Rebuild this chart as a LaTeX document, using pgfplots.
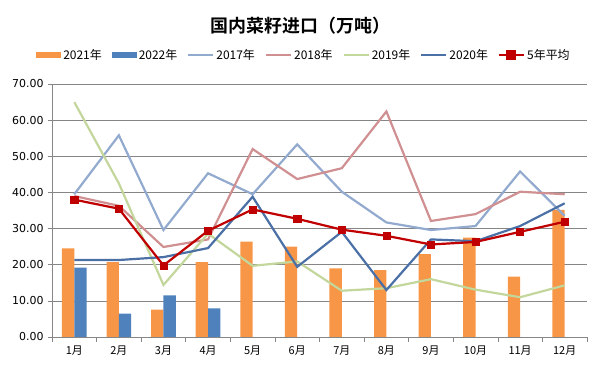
\documentclass[border=0pt]{standalone}
\usepackage{pgfplots}
\pgfplotsset{compat=1.18}
\usepackage{fontspec}
\setmainfont{DejaVu Sans}
\newfontfamily\cjk{Noto Sans CJK SC}
\newfontfamily\cjkb{Noto Sans CJK SC Bold}
\definecolor{c21}{HTML}{F79646}
\definecolor{c22}{HTML}{4F81BD}
\definecolor{c17}{HTML}{93AACF}
\definecolor{c18}{HTML}{D09092}
\definecolor{c19}{HTML}{C3D69B}
\definecolor{c20}{HTML}{4A70A6}
\definecolor{cav}{HTML}{C00000}
\definecolor{gridc}{HTML}{868686}
\begin{document}
\begin{tikzpicture}
\useasboundingbox (-52bp,-34bp) rectangle (549bp,337bp);
\begin{axis}[
  at={(0,0)}, anchor=south west,
  scale only axis, width=535bp, height=253bp,
  xmin=-0.5, xmax=11.5, ymin=0, ymax=70,
  axis x line*=bottom, axis y line*=left,
  axis line style={gridc, line width=0.6bp},
  ytick={0,10,...,70},
  ymajorgrids, grid style={gridc, line width=0.6bp},
  yticklabel style={font=\fontsize{11}{12}\selectfont, xshift=-1bp,
    /pgf/number format/fixed, /pgf/number format/fixed zerofill,
    /pgf/number format/precision=2, /pgf/number format/assume math mode=true},
  major tick length=4bp, tick align=outside, tick style={gridc, line width=0.6bp},
  xtick={0,...,11}, major x tick style={draw=none},
  xticklabels={1月,2月,3月,4月,5月,6月,7月,8月,9月,10月,11月,12月},
  xticklabel style={font=\cjk\fontsize{11}{12}\selectfont, yshift=-1bp},
  minor xtick={-0.5,0.5,...,11.5}, minor x tick style={gridc, line width=0.6bp}, minor tick length=5bp,
  legend columns=7,
  legend style={at={(0.471,1.115)}, anchor=center, draw=none, fill=none,
    font=\cjk\fontsize{12}{13}\selectfont,
    /tikz/every even column/.append style={column sep=8bp},
    inner sep=0pt},
  legend cell align=left,
]
\addplot[ybar, bar width=12.3bp, bar shift=-6.15bp, fill=c21, draw=none,
  legend image code/.code={\fill[c21] (0bp,-3bp) rectangle (25bp,3bp);}]
  coordinates {(0,24.5) (1,20.7) (2,7.6) (3,20.7) (4,26.4) (5,25.0) (6,19.0) (7,18.5) (8,22.9) (9,27.5) (10,16.7) (11,35.2)};
\addlegendentry{2021年}
\addplot[ybar, bar width=12.3bp, bar shift=6.15bp, fill=c22, draw=none,
  legend image code/.code={\fill[c22] (0bp,-3bp) rectangle (25bp,3bp);}]
  coordinates {(0,19.2) (1,6.5) (2,11.5) (3,7.9)};
\addlegendentry{2022年}
\pgfplotsset{every axis plot/.append style={line width=2.2bp, mark=none},
  legend image code/.code={\draw[#1] (0bp,0bp) -- (25bp,0bp);}}
\addplot[c17] coordinates {(0,39.5) (1,55.8) (2,29.6) (3,45.3) (4,39.5) (5,53.3) (6,40.2) (7,31.7) (8,29.6) (9,30.7) (10,45.8) (11,33.5)};
\addlegendentry{2017年}
\addplot[c18] coordinates {(0,39.0) (1,36.3) (2,24.9) (3,27.0) (4,52.0) (5,43.7) (6,46.7) (7,62.4) (8,32.1) (9,34.0) (10,40.2) (11,39.5)};
\addlegendentry{2018年}
\addplot[c19] coordinates {(0,65.0) (1,42.5) (2,14.4) (3,28.6) (4,19.7) (5,20.9) (6,12.8) (7,13.5) (8,16.0) (9,13.1) (10,11.0) (11,14.3)};
\addlegendentry{2019年}
\addplot[c20] coordinates {(0,21.3) (1,21.3) (2,22.1) (3,24.6) (4,38.8) (5,19.4) (6,29.1) (7,13.0) (8,27.0) (9,26.5) (10,30.7) (11,37.0)};
\addlegendentry{2020年}
\addplot[cav, mark=square*, mark size=3.6bp, mark options={solid, line width=0.5bp},
  legend image code/.code={\draw[cav, line width=2.2bp] (0bp,0bp) -- (25bp,0bp); \fill[cav] (8.5bp,-3.6bp) rectangle (15.7bp,3.6bp);}]
  coordinates {(0,38.0) (1,35.5) (2,19.8) (3,29.4) (4,35.3) (5,32.7) (6,29.7) (7,28.0) (8,25.6) (9,26.3) (10,29.1) (11,31.9)};
\addlegendentry{5年平均}
\end{axis}
\node[font=\cjkb\fontsize{18}{19}\selectfont] at (248.5bp,311bp) {国内菜籽进口（万吨）};
\end{tikzpicture}
\end{document}
